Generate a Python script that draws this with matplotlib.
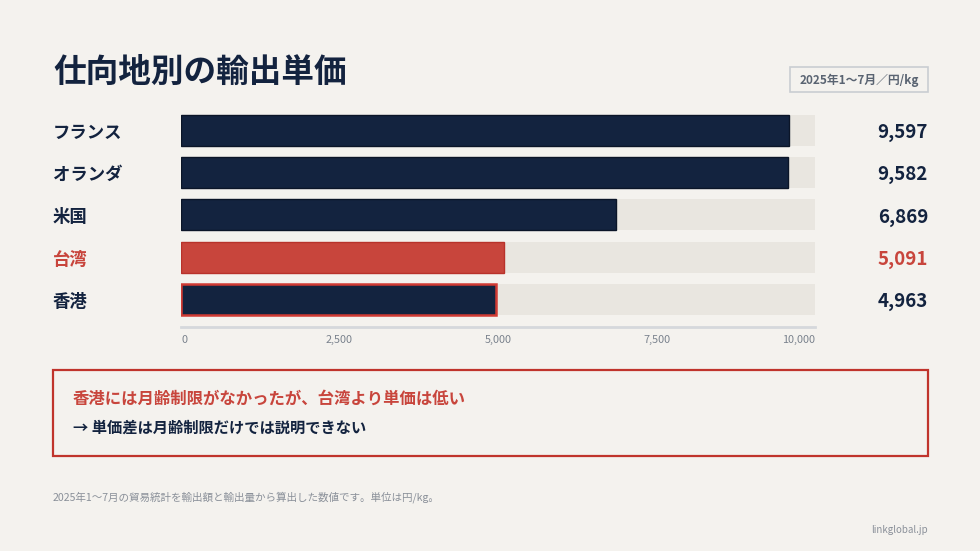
import matplotlib
matplotlib.use("Agg")
import matplotlib.pyplot as plt
import matplotlib.transforms as mtrans
from matplotlib.patches import Rectangle

plt.rcParams['font.family'] = ['Noto Sans CJK JP', 'DejaVu Sans']

# データ
countries = ["フランス", "オランダ", "米国", "台湾", "香港"]
unit_prices = [9597, 9582, 6869, 5091, 4963]
highlight = "台湾"
outlined = "香港"
x_ticks = [0, 2500, 5000, 7500, 10000]
x_max = 10000

title = "仕向地別の輸出単価"
unit_label = "2025年1〜7月／円/kg"
note_main = "香港には月齢制限がなかったが、台湾より単価は低い"
note_sub = "→ 単価差は月齢制限だけでは説明できない"
footnote = "2025年1〜7月の貿易統計を輸出額と輸出量から算出した数値です。単位は円/kg。"
credit = "linkglobal.jp"

# 色
bg = "#F4F2EE"
navy = "#13233F"
red = "#C8453C"
red_dark = "#B8322B"
track = "#E9E6E0"

W, H = 980, 551
fig = plt.figure(figsize=(W / 100, H / 100), dpi=100, facecolor=bg)


def fx(px):
    return px / W


def fy(py):
    return 1 - py / H


# タイトル
fig.text(fx(53), fy(72), title, fontsize=23.5, fontweight="bold", color=navy,
         ha="left", va="center")

# 単位ボックス
fig.patches.append(Rectangle((fx(790), fy(92)), fx(928) - fx(790), fy(67) - fy(92),
                             transform=fig.transFigure, facecolor=bg,
                             edgecolor="#C9CDD2", linewidth=1.2))
fig.text(fx(859), fy(80), unit_label, fontsize=8.5, fontweight="bold",
         color="#5A6472", ha="center", va="center")

# 棒グラフ
ax = fig.add_axes([fx(181), fy(327), fx(815) - fx(181), fy(109) - fy(327)])
ax.set_facecolor(bg)
ypos = list(range(len(countries)))
bar_h = 0.733

row_tr = mtrans.offset_copy(
    mtrans.blended_transform_factory(fig.transFigure, ax.transData),
    fig=fig, x=0, y=-2.5, units="dots")

ax.barh(ypos, [x_max] * len(countries), height=bar_h, color=track, zorder=1)
for y, name, v in zip(ypos, countries, unit_prices):
    if name == highlight:
        fc, ec, lw = red, red_dark, 1.0
    elif name == outlined:
        fc, ec, lw = navy, "#D03A33", 1.8
    else:
        fc, ec, lw = navy, "#0B1528", 1.0
    ax.barh(y, v, height=bar_h, color=fc, edgecolor=ec, linewidth=lw, zorder=2)
    tc = red if name == highlight else navy
    fig.text(fx(53), y, name, fontsize=12.5, fontweight="bold", color=tc,
             ha="left", va="center", transform=row_tr)
    fig.text(fx(928), y, f"{v:,}", fontsize=13.5, fontweight="bold", color=tc,
             ha="right", va="center", transform=row_tr)

ax.set_xlim(0, x_max)
ax.set_ylim(4.65, -0.5)
ax.set_yticks([])
for s in ["top", "right", "left"]:
    ax.spines[s].set_visible(False)
ax.spines["bottom"].set_color("#D5D8DC")
ax.spines["bottom"].set_linewidth(2)
ax.set_xticks(x_ticks)
ax.set_xticklabels([f"{t:,}" for t in x_ticks])
ax.tick_params(axis="x", length=0, pad=6, labelsize=7.8, labelcolor="#7A828D")
labels = ax.get_xticklabels()
labels[0].set_ha("left")
labels[-1].set_ha("right")

# 注記ボックス
fig.patches.append(Rectangle((fx(53), fy(456)), fx(928) - fx(53), fy(370) - fy(456),
                             transform=fig.transFigure, facecolor=bg,
                             edgecolor="#C0342C", linewidth=1.6))
fig.text(fx(73), fy(399), note_main, fontsize=11.8, fontweight="bold", color=red,
         ha="left", va="center")
fig.text(fx(73), fy(428), note_sub, fontsize=11, fontweight="bold", color=navy,
         ha="left", va="center")

# 脚注
fig.text(fx(53), fy(497), footnote, fontsize=7.6, color="#8A9099", ha="left", va="center")
fig.text(fx(928), fy(530), credit, fontsize=7, color="#8A9099", ha="right", va="center")

fig.savefig("out.png", dpi=100, facecolor=bg)
